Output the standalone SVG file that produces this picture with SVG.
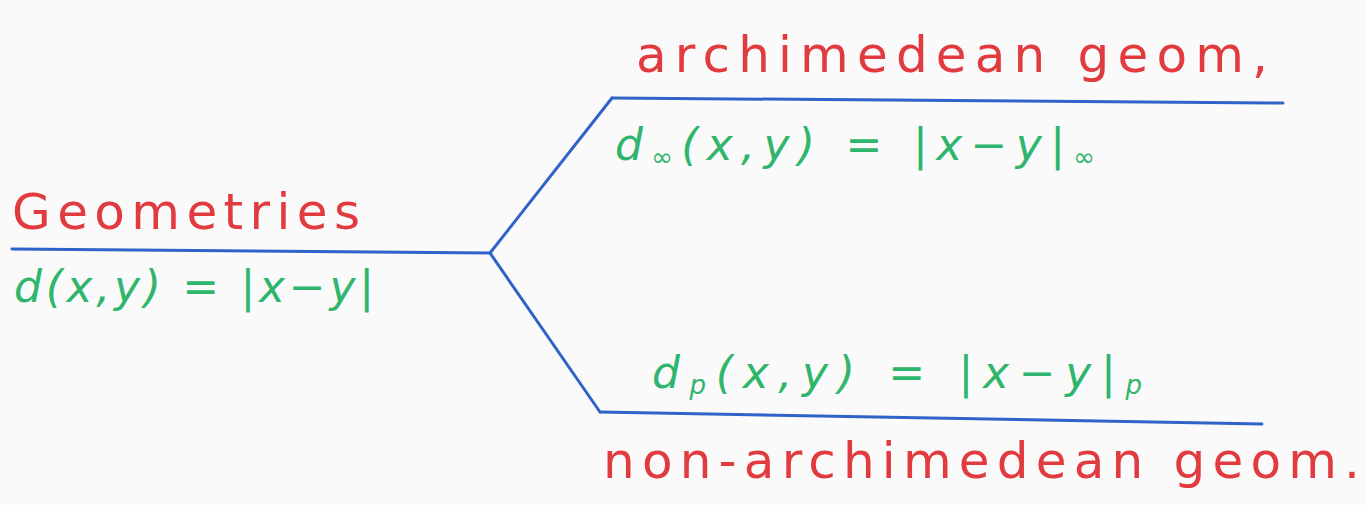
<svg xmlns="http://www.w3.org/2000/svg" width="1365" height="505" viewBox="0 0 1365 505">
<style>
.bg{fill:#fafafa}
.ln{stroke:#2f63c9;stroke-width:3;fill:none;stroke-linecap:round;stroke-linejoin:round}
.red{fill:#e23b3f;font-family:"DejaVu Sans","Liberation Sans",sans-serif;font-size:50px}
.grn{fill:#2fb56c;font-family:"DejaVu Sans","Liberation Sans",sans-serif;font-size:44px;font-style:italic}
.sub{font-size:26px}
</style>
<rect class="bg" x="0" y="0" width="1365" height="505"/>
<g id="connectors">
<path class="ln" d="M490,253 L612,98"/>
<path class="ln" d="M490,253 L600,412"/>
</g>
<g id="root">
<path class="ln" d="M12,249 L490,253"/>
<text class="red" x="12" y="229" textLength="348" lengthAdjust="spacing">Geometries</text>
<text class="grn" x="14" y="302" textLength="360" lengthAdjust="spacing">d(x,y) = |x−y|</text>
</g>
<g id="archimedean">
<path class="ln" d="M612,98 L1283,103"/>
<text class="red" x="636" y="72" textLength="632" lengthAdjust="spacing">archimedean  geom,</text>
<text class="grn" x="615" y="160" textLength="480" lengthAdjust="spacing">d<tspan class="sub" dy="6">∞</tspan><tspan dy="-6">(x,y) = |x−y|</tspan><tspan class="sub" dy="6">∞</tspan></text>
</g>
<g id="non-archimedean">
<path class="ln" d="M600,412 L1262,424"/>
<text class="grn" x="652" y="388" textLength="490" lengthAdjust="spacing">d<tspan class="sub" dy="6">p</tspan><tspan dy="-6">(x,y) = |x−y|</tspan><tspan class="sub" dy="6">p</tspan></text>
<text class="red" x="603" y="478" textLength="757" lengthAdjust="spacing">non-archimedean  geom.</text>
</g>
</svg>
